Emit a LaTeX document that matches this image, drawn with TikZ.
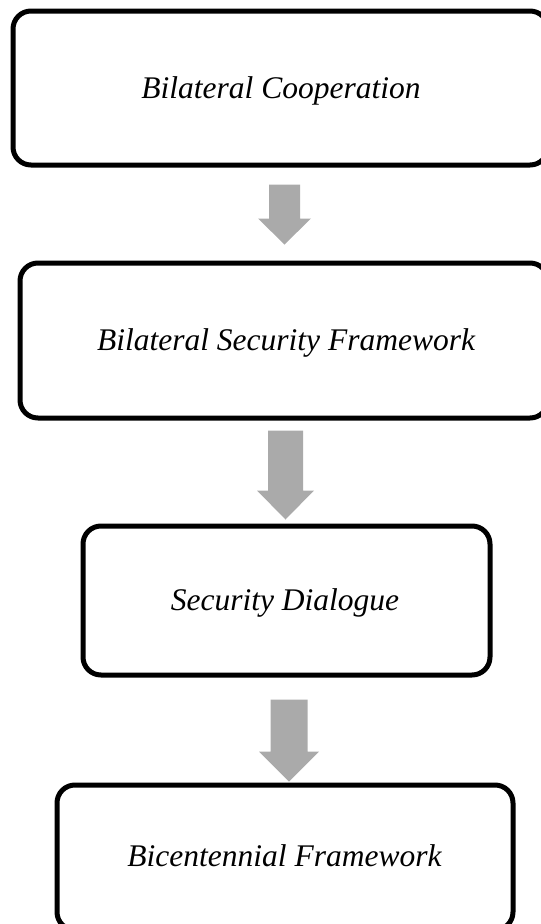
\documentclass[tikz,border=0pt]{standalone}
\usepackage{fontspec}
\setmainfont{Liberation Serif}
\usetikzlibrary{calc}

\definecolor{arrowgray}{RGB}{170,170,170}

\tikzset{
  stagebox/.style={draw=black, line width=5pt, rounded corners=18pt,
    inner sep=0pt, fill=white},
  stagetext/.style={anchor=base, inner sep=0pt,
    font=\fontsize{31.5pt}{36pt}\selectfont\itshape},
}

% block arrow pointing down from #1 (top of shaft) to #2 (tip)
% #3 shaft half width, #4 head half width, #5 head length
\newcommand\blockdown[5]{%
  \fill[arrowgray] let \p1=(#1), \p2=(#2) in
    (\x1-#3,\y1) -- (\x1+#3,\y1) -- (\x1+#3,\y2+#5) -- (\x1+#4,\y2+#5)
    -- (\x1,\y2) -- (\x1-#4,\y2+#5) -- (\x1-#3,\y2+#5) -- cycle;}

\begin{document}
\begin{tikzpicture}[x=1pt,y=1pt]
  \useasboundingbox (0,0) rectangle (541,-924);
  \clip (0,0) rectangle (541,-924);

  % the four stages
  \node[stagebox, minimum width=535pt, minimum height=154pt] (b1) at (280.5,-88) {};
  \node[stagebox, minimum width=528pt, minimum height=155pt] (b2) at (284,-340.5) {};
  \node[stagebox, minimum width=407pt, minimum height=149pt] (b3) at (286.5,-600.5) {};
  \node[stagebox, minimum width=456pt, minimum height=145pt] (b4) at (285,-857.5) {};

  \node[stagetext] (t1) at (281,-98) {Bilateral Cooperation};
  \node[stagetext] (t2) at (286,-350) {Bilateral Security Framework};
  \node[stagetext] (t3) at (285,-610) {Security Dialogue};
  \node[stagetext] (t4) at (284.5,-866) {Bicentennial Framework};

  % arrows between the stages
  \coordinate (a1s) at ($(b1.south -| 284.5,0)+(0,-17)$);
  \coordinate (a1e) at ($(b2.north -| 284.5,0)+(0,16)$);
  \coordinate (a2s) at ($(b2.south -| 285.5,0)+(0,-10)$);
  \coordinate (a2e) at ($(b3.north -| 285.5,0)+(0,4)$);
  \coordinate (a3s) at ($(b3.south -| 289,0)+(0,-22)$);
  \coordinate (a3e) at ($(b4.north -| 289,0)+(0,1)$);

  \blockdown{a1s}{a1e}{15.5}{26.5}{26}
  \blockdown{a2s}{a2e}{17.5}{28.5}{29}
  \blockdown{a3s}{a3e}{18.5}{30}{30}
\end{tikzpicture}
\end{document}
